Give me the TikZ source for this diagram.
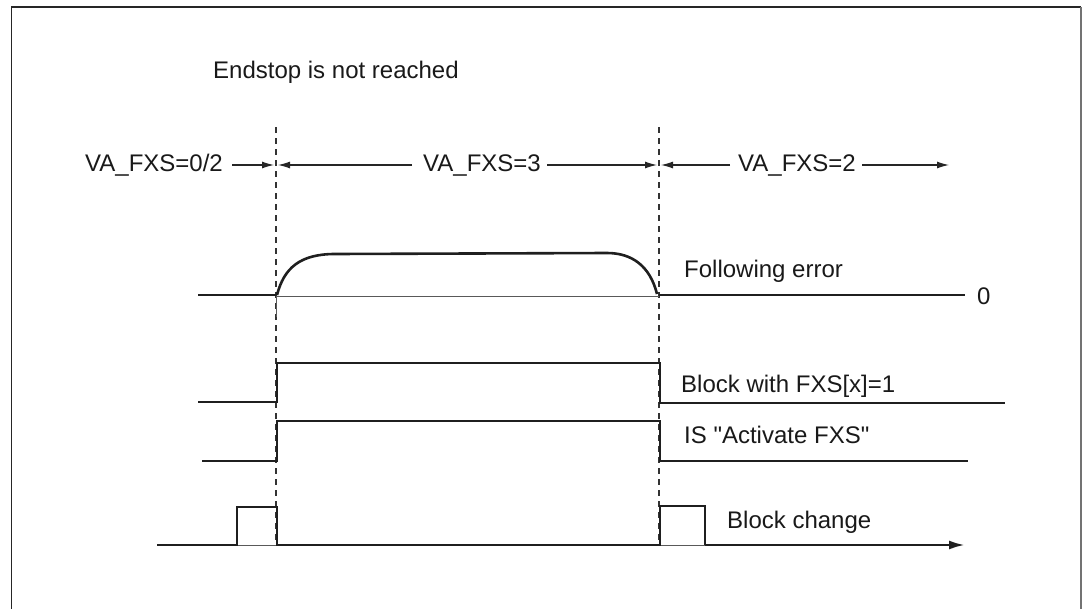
\documentclass[tikz,border=0pt]{standalone}
\usepackage{fontspec}
\setmainfont{Liberation Sans}
\usetikzlibrary{arrows.meta}
\begin{document}
\begin{tikzpicture}[x=1pt,y=-1pt,
  lbl/.style={anchor=base west,inner sep=0pt,font=\fontsize{24}{28}\selectfont,text=black!90},
  sig/.style={line width=2.6pt,line join=miter,color=black!88},
  thinl/.style={line width=1pt,color=black!65},
  dimarrow/.style={line width=1.1pt,color=black!85,-{Latex[length=12pt,width=7pt]}},
  guide/.style={line width=1.3pt,color=black!80,dash pattern=on 6pt off 5pt},
  frame/.style={line width=1.8pt,color=black!85}]
\useasboundingbox (0,0) rectangle (1084,608);
\draw[frame] (11.5,612) -- (11.5,7) -- (1081,7);
\draw[line width=1.2pt,color=black!55] (1081,7) -- (1081,612);

% labels
\node[lbl] (endstop) at (213,78) {Endstop is not reached};
\node[lbl] (va02) at (85,171) {VA\_FXS=0/2};
\node[lbl] (va3) at (423,171) {VA\_FXS=3};
\node[lbl] (va2) at (738,171) {VA\_FXS=2};
\node[lbl] (ferr) at (684,277) {Following error};
\node[lbl] (zero) at (977,304) {0};
\node[lbl] (blk) at (681,392) {Block with FXS[x]=1};
\node[lbl] (isfxs) at (684,443) {IS \textquotedbl Activate FXS\textquotedbl};
\node[lbl] (bchg) at (727,528) {Block change};

% dashed guides
\coordinate (g1t) at (276,127); \coordinate (g1b) at (276,545);
\coordinate (g2t) at (659,127); \coordinate (g2b) at (659,545);
\draw[guide] (g1t) -- (g1b);
\draw[guide] (g2t) -- (g2b);

% dimension arrows
\coordinate (a1s) at (232,165); \coordinate (a1e) at (274,165);
\coordinate (a2s) at (412,165); \coordinate (a2e) at (278,165);
\coordinate (a3s) at (547,165); \coordinate (a3e) at (657,165);
\coordinate (a4s) at (730,165); \coordinate (a4e) at (661,165);
\coordinate (a5s) at (862,165); \coordinate (a5e) at (949,165);
\draw[dimarrow] (a1s) -- (a1e);
\draw[dimarrow] (a2s) -- (a2e);
\draw[dimarrow] (a3s) -- (a3e);
\draw[dimarrow] (a4s) -- (a4e);
\draw[dimarrow] (a5s) -- (a5e);

% following error
\draw[sig] (198,295) -- (276,295);
\draw[thinl] (276,296) -- (659,296);
\draw[thinl] (276,296) -- (276,317);
\draw[sig] (277,295) .. controls (284,268) and (300,254) .. (335,254)
  -- (607,253) .. controls (632,253) and (650,266) .. (657,294);
\draw[sig] (659,295) -- (965,295);

% block with FXS
\draw[sig] (198,402) -- (277,402) -- (277,363) -- (660,363) -- (660,403) -- (1005,403);

% IS activate FXS
\draw[sig] (202,461) -- (277,461) -- (277,421) -- (660,421) -- (660,461) -- (968,461);

% block change
\draw[thinl] (237,545) -- (277,545);
\draw[thinl] (660,545) -- (705,545);
\draw[sig] (157,545) -- (237,545) -- (237,507) -- (277,507) -- (277,545) -- (660,545)
  -- (660,506) -- (705,506) -- (705,545);
\coordinate (axs) at (705,545); \coordinate (axe) at (965,545);
\draw[sig,-{Latex[length=16pt,width=9pt]}] (axs) -- (axe);
\end{tikzpicture}
\end{document}
